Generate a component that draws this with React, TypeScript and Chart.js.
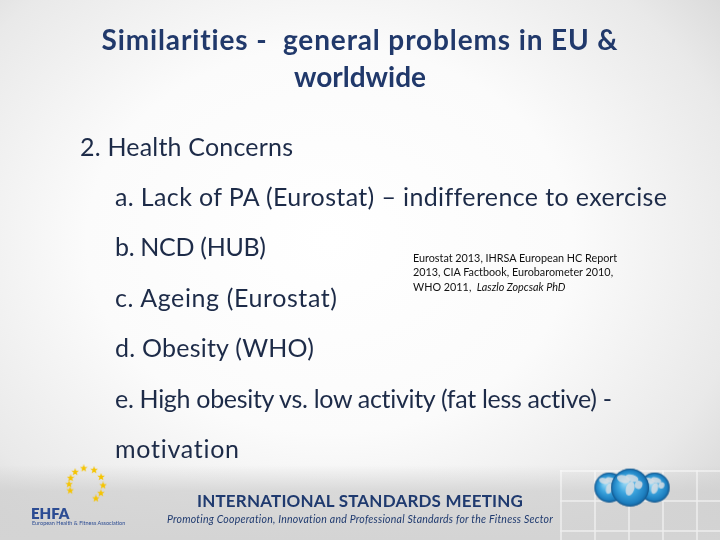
import React, { useEffect, useLayoutEffect, useRef } from "react";
import { Chart, registerables } from "chart.js";

Chart.register(...registerables);

const titleLines = ["Similarities -  general problems in EU &", "worldwide"];
const heading = "2. Health Concerns";
const bulletItems = [
  "a. Lack of PA (Eurostat) – indifference to exercise",
  "b. NCD (HUB)",
  "c. Ageing (Eurostat)",
  "d. Obesity (WHO)",
  "e. High obesity vs. low activity (fat less active) -",
  "motivation",
];
const sourceLines = [
  "Eurostat 2013, IHRSA European HC Report",
  "2013, CIA Factbook, Eurobarometer 2010,",
];
const sourceLast = "WHO 2011,  ";
const sourceAuthor = "Laszlo Zopcsak PhD";
const footerTitle = "INTERNATIONAL STANDARDS MEETING";
const footerSub =
  "Promoting Cooperation, Innovation and Professional Standards for the Fitness Sector";
const logoText = "EHFA";
const logoSub = "European Health & Fitness Association";

// logo stars: angles in degrees around the ring (0 = right, 90 = up)
const starAngles = [200, 178, 156, 130, 98, 62, 28, -2, -30, -55];
// globes: left, right, centre (drawn last, on top)
const globeOffsets = [-22, 26, 0];
const globeSizes = [15, 15, 19];

// layout: target widths (px) of text lines, measured on the slide
const bulletWidths = [552, 151, 222, 199, 497, 124];
const headingWidth = 213;
const titleWidth = 516;
const footerWidths = [326, 386];

function makeStar(size: number, color: string) {
  const c = document.createElement("canvas");
  c.width = size;
  c.height = size;
  const g = c.getContext("2d")!;
  const cx = size / 2;
  const cy = size / 2;
  const ro = size / 2;
  const ri = ro * 0.42;
  g.beginPath();
  for (let i = 0; i < 10; i++) {
    const r = i % 2 === 0 ? ro : ri;
    const a = -Math.PI / 2 + (i * Math.PI) / 5;
    const x = cx + r * Math.cos(a);
    const y = cy + r * Math.sin(a);
    if (i === 0) g.moveTo(x, y);
    else g.lineTo(x, y);
  }
  g.closePath();
  g.fillStyle = color;
  g.fill();
  return c;
}

function makeGlobe(r: number) {
  const s = Math.ceil(r * 2 + 2);
  const c = document.createElement("canvas");
  c.width = s;
  c.height = s;
  const g = c.getContext("2d")!;
  const cx = s / 2;
  const cy = s / 2;
  const grad = g.createRadialGradient(cx - r * 0.25, cy - r * 0.3, r * 0.05, cx, cy, r);
  grad.addColorStop(0, "#9fdcf7");
  grad.addColorStop(0.45, "#3ea7e0");
  grad.addColorStop(0.85, "#1d7fc0");
  grad.addColorStop(1, "#14609a");
  g.beginPath();
  g.arc(cx, cy, r, 0, Math.PI * 2);
  g.fillStyle = grad;
  g.fill();
  g.save();
  g.clip();
  g.fillStyle = "rgba(215,222,228,0.85)";
  const blobs = [
    [-0.35, -0.45, 0.35, 0.2],
    [0.1, -0.5, 0.35, 0.18],
    [0.0, 0.05, 0.22, 0.38],
    [0.45, -0.15, 0.2, 0.22],
  ];
  blobs.forEach(([dx, dy, rx, ry]) => {
    g.beginPath();
    g.ellipse(cx + dx * r, cy + dy * r, rx * r, ry * r, 0.3, 0, Math.PI * 2);
    g.fill();
  });
  g.restore();
  g.beginPath();
  g.arc(cx, cy, r - 0.5, 0, Math.PI * 2);
  g.strokeStyle = "rgba(20,80,130,0.6)";
  g.lineWidth = 1;
  g.stroke();
  return c;
}

export default function App() {
  const ref = useRef<HTMLCanvasElement | null>(null);
  const fitRefs = useRef<{ el: HTMLElement; w: number }[]>([]);
  fitRefs.current = [];
  const fit = (w: number) => (el: HTMLElement | null) => {
    if (el) fitRefs.current.push({ el, w });
  };

  useLayoutEffect(() => {
    const apply = () => {
      fitRefs.current.forEach(({ el, w }) => {
        el.style.letterSpacing = "0px";
        const nat = el.getBoundingClientRect().width;
        const n = Math.max(1, (el.textContent || "").length - 1);
        el.style.letterSpacing = `${(w - nat) / n}px`;
      });
    };
    apply();
    if ((document as any).fonts) (document as any).fonts.ready.then(apply);
  }, []);

  useEffect(() => {
    document.body.style.margin = "0";
    const canvas = ref.current;
    if (!canvas) return;
    const starCx = 70;
    const starCy = 502;
    const starR = 18;
    const starData = starAngles.map((a) => ({
      x: starCx + starR * Math.cos((a * Math.PI) / 180),
      y: starCy - starR * Math.sin((a * Math.PI) / 180),
    }));
    const globeData = globeOffsets.map((o) => ({ x: 646 + o, y: 505 }));
    const starImg = makeStar(8, "#f5c400");
    const globeImgs = globeSizes.map((r) => makeGlobe(r));
    const chart = new Chart(canvas, {
      type: "scatter",
      data: {
        datasets: [
          {
            data: starData,
            pointStyle: starImg as any,
            pointRadius: 4,
          },
          {
            data: globeData,
            pointStyle: globeImgs as any,
            pointRadius: globeSizes,
          },
        ],
      },
      options: {
        animation: false,
        responsive: false,
        events: [],
        layout: { padding: 0 },
        plugins: { legend: { display: false }, tooltip: { enabled: false } },
        scales: {
          x: { type: "linear", min: 0, max: 720, display: false },
          y: { type: "linear", min: 0, max: 540, reverse: true, display: false },
        },
      },
    });
    return () => chart.destroy();
  }, []);

  const font = "Lato, 'Open Sans', sans-serif";
  const line = (top: number, left: number, size: number, extra: React.CSSProperties = {}) =>
    ({
      position: "absolute",
      top: top - size * 0.6,
      left,
      fontSize: size,
      lineHeight: `${size * 1.2}px`,
      whiteSpace: "pre",
      fontFamily: font,
      fontVariantLigatures: "none",
      ...extra,
    } as React.CSSProperties);
  const centred = (top: number, size: number, extra: React.CSSProperties = {}) =>
    ({ ...line(top, 0, size), width: 720, textAlign: "center", ...extra } as React.CSSProperties);

  const bodyColor = "#1d2b48";

  return (
    <div
      style={{
        position: "fixed",
        left: 0,
        top: 0,
        width: 720,
        height: 540,
        overflow: "hidden",
        background:
          "radial-gradient(ellipse 540px 430px at 330px 240px, #ffffff 0%, #fbfbfb 45%, #e9e9e9 78%, #d2d2d2 100%)",
      }}
    >
      <div
        style={{
          position: "absolute",
          left: 0,
          top: 465,
          width: 720,
          height: 75,
          background:
            "linear-gradient(180deg, rgba(215,215,215,0) 0%, rgba(208,208,208,0.75) 35%, #d4d4d4 100%)",
        }}
      />
      <div
        style={{
          position: "absolute",
          left: 560,
          top: 470,
          width: 160,
          height: 70,
          backgroundImage:
            "repeating-linear-gradient(90deg, rgba(255,255,255,0.75) 0 2px, transparent 2px 34px), repeating-linear-gradient(180deg, rgba(255,255,255,0.75) 0 2px, transparent 2px 30px)",
          opacity: 0.6,
        }}
      />
      <canvas
        ref={ref}
        width={720}
        height={540}
        style={{ position: "absolute", left: 0, top: 0, width: 720, height: 540 }}
      />
      {titleLines.map((t, i) => (
        <div key={t} style={centred(40 + i * 37, 28, { fontWeight: 700, color: "#21396b" })}>
          {i === 0 ? <span ref={fit(titleWidth)}>{t}</span> : <span>{t}</span>}
        </div>
      ))}
      <div style={{ ...line(146, 80, 25), color: bodyColor }}>
        <span ref={fit(headingWidth)}>{heading}</span>
      </div>
      {bulletItems.map((t, i) => (
        <div key={t} style={{ ...line(196 + i * 50.4, 115, 25), color: bodyColor }}>
          <span ref={fit(bulletWidths[i])}>{t}</span>
        </div>
      ))}
      {sourceLines.map((t, i) => (
        <div key={t} style={{ ...line(258 + i * 14.5, 413, 10.8), color: "#111" }}>
          {t}
        </div>
      ))}
      <div style={{ ...line(287, 413, 10.8), color: "#111" }}>
        {sourceLast}
        <i>{sourceAuthor}</i>
      </div>
      <div style={centred(501, 17, { fontWeight: 700, color: "#1f3a6f" })}>
        <span ref={fit(footerWidths[0])}>{footerTitle}</span>
      </div>
      <div style={centred(519, 10.5, { fontStyle: "italic", color: "#1f3a6f" })}>
        <span ref={fit(footerWidths[1])}>{footerSub}</span>
      </div>
      <div style={{ ...line(513, 31, 15), fontWeight: 800, color: "#2c4c93" }}>{logoText}</div>
      <div style={{ ...line(523, 32, 5.5), color: "#2c4c93" }}>{logoSub}</div>
    </div>
  );
}
